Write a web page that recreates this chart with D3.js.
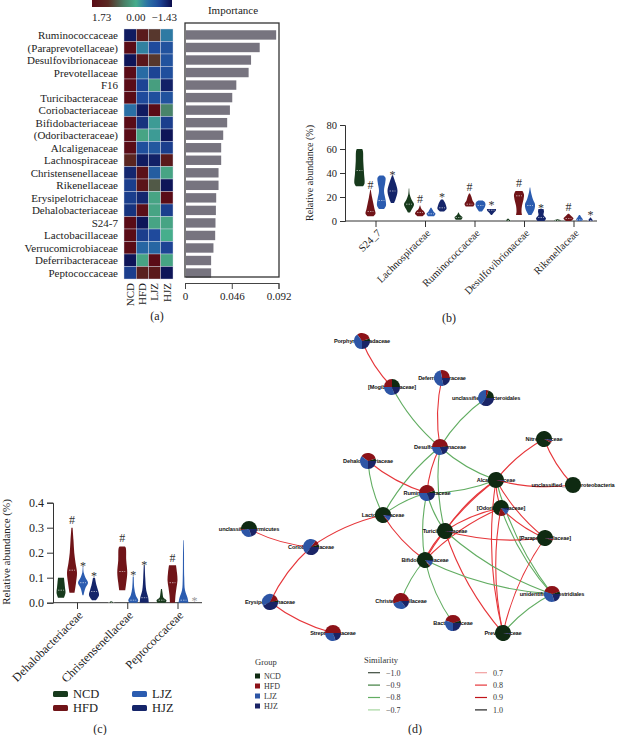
<!DOCTYPE html>
<html><head><meta charset="utf-8">
<script src="https://cdn.jsdelivr.net/npm/d3@7"></script>
<style>body{margin:0;background:#fff}svg{display:block}</style>
</head><body>
<svg id="c" width="620" height="735"></svg>
<script>
// ================= DATA =================
const groups = ["NCD","HFD","LJZ","HJZ"];
const heatRows = ["Ruminococcaceae","(Paraprevotellaceae)","Desulfovibrionaceae","Prevotellaceae","F16","Turicibacteraceae","Coriobacteriaceae","Bifidobacteriaceae","(Odoribacteraceae)","Alcaligenaceae","Lachnospiraceae","Christensenellaceae","Rikenellaceae","Erysipelotrichaceae","Dehalobacteriaceae","S24-7","Lactobacillaceae","Verrucomicrobiaceae","Deferribacteraceae","Peptococcaceae"];
const heatValues = [
 [-1.3, 1.4, 1.0,-0.4],
 [ 1.7,-0.35,-0.9,-0.8],
 [-1.35,1.5, 1.0,-0.8],
 [ 1.7,-0.55,-0.95,-0.85],
 [ 1.7,-0.95,0.15,-1.25],
 [ 1.7,-0.9,-0.85,-0.8],
 [-0.5,-1.3, 1.7, 0.4],
 [ 1.7,-1.1,-0.15,-1.0],
 [ 1.7, 0.1,-0.15,-1.35],
 [ 1.7,-0.85,-0.75,-1.0],
 [ 1.2,-1.3,-1.25, 1.45],
 [-1.2, 1.6,-0.7, 0.1],
 [-1.0, 1.55,0.75,-1.35],
 [-1.0,-1.2, 0.1, 1.7],
 [-1.1, 1.65,0.1,-1.0],
 [ 1.7,-1.35,0.1, 0.1],
 [ 1.7,-1.0,-0.9, 0.0],
 [ 1.7,-0.6,-0.6,-0.95],
 [-1.35,0.1, 1.7, 0.1],
 [-1.0, 1.3, 1.45,-1.35]
];
const importance = [0.0897,0.0735,0.065,0.0626,0.0505,0.0465,0.0442,0.0415,0.0376,0.0356,0.0356,0.033,0.033,0.0307,0.0304,0.030,0.0297,0.028,0.0257,0.0257];
const colorbarTicks = [1.73, 0.00, -1.43];
const importanceTicks = [0, 0.046, 0.092];

const bCategories = ["S24_7","Lachnospiraceae","Ruminococcaceae","Desulfovibrionaceae","Rikenellaceae"];
const bTicks = [0,20,40,60,80];
// [category, group, median, profile [value, relative width]]
const bViolins = [
 ["S24_7","NCD",42,[[29,0.7],[31,1],[40,0.9],[50,0.75],[58,0.7],[60,0.55]]],
 ["S24_7","HFD",8,[[4,0.6],[6,1],[10,0.8],[15,0.55],[20,0.3],[26,0.05]]],
 ["S24_7","LJZ",17,[[10,0.5],[13,0.9],[18,0.8],[25,0.5],[32,0.75],[36,0.8],[38,0.4]]],
 ["S24_7","HJZ",25,[[15,0.3],[18,0.6],[25,1],[32,0.6],[38,0.1]]],
 ["Lachnospiraceae","NCD",14,[[7,0.2],[10,0.6],[14,1],[18,0.5],[22,0.15],[27,0.05]]],
 ["Lachnospiraceae","HFD",7,[[4,0.5],[6,1],[8,0.8],[10,0.3],[13,0.05]]],
 ["Lachnospiraceae","LJZ",6,[[4,0.6],[6,0.9],[8,0.5],[11,0.1]]],
 ["Lachnospiraceae","HJZ",11,[[8,0.4],[10,0.9],[13,0.8],[16,0.5],[18,0.2]]],
 ["Ruminococcaceae","NCD",3,[[1,0.5],[3,0.8],[5,0.3],[7,0.05]]],
 ["Ruminococcaceae","HFD",14,[[12,0.7],[14,1],[17,0.6],[20,0.4],[23,0.1]]],
 ["Ruminococcaceae","LJZ",13,[[8,0.3],[11,0.8],[14,1],[16,0.8],[17,0.4]]],
 ["Ruminococcaceae","HJZ",9,[[5,0.1],[7,0.5],[9,0.9],[10,0.9]]],
 ["Desulfovibrionaceae","NCD",0.5,[[0,0.3],[0.5,0.6],[1,0.3],[2,0.05]]],
 ["Desulfovibrionaceae","HFD",21,[[5,0.6],[8,0.5],[13,0.6],[18,0.9],[22,1],[25,0.7]]],
 ["Desulfovibrionaceae","LJZ",13,[[5,0.3],[10,0.9],[14,1],[18,0.6],[24,0.2],[28,0.05]]],
 ["Desulfovibrionaceae","HJZ",3,[[0,0.7],[2,1],[5,0.5],[8,0.6],[10,0.5]]],
 ["Rikenellaceae","NCD",0.4,[[0,0.5],[0.5,0.7],[1.5,0.1]]],
 ["Rikenellaceae","HFD",2,[[0,0.5],[2,1],[4,0.6],[6,0.1]]],
 ["Rikenellaceae","LJZ",1,[[0,0.4],[1,0.7],[3,0.4],[5,0.1]]],
 ["Rikenellaceae","HJZ",0.5,[[0,0.5],[1,0.4],[3,0.05]]]
];
// [category, group, symbol, value]
const bMarks = [
 ["S24_7","HFD","#",30],["S24_7","HJZ","*",41],
 ["Lachnospiraceae","HFD","#",18.3],["Lachnospiraceae","HJZ","*",22.5],
 ["Ruminococcaceae","HFD","#",28.6],["Ruminococcaceae","HJZ","*",15.8],
 ["Desulfovibrionaceae","HFD","#",32],["Desulfovibrionaceae","HJZ","*",14],
 ["Rikenellaceae","HFD","#",12],["Rikenellaceae","HJZ","*",7.8]
];

const cCategories = ["Dehalobacteriaceae","Christensenellaceae","Peptococcaceae"];
const cTicks = [0,0.1,0.2,0.3,0.4];
const cViolins = [
 ["Dehalobacteriaceae","NCD",0.05,[[0.02,0.6],[0.04,0.9],[0.06,0.8],[0.08,0.7],[0.1,0.6]]],
 ["Dehalobacteriaceae","HFD",0.13,[[0.04,0.5],[0.08,0.8],[0.12,1],[0.16,0.7],[0.2,0.45],[0.25,0.3],[0.3,0.12]]],
 ["Dehalobacteriaceae","LJZ",0.08,[[0.03,0.1],[0.06,0.5],[0.08,1],[0.1,0.5],[0.12,0.15],[0.145,0.05]]],
 ["Dehalobacteriaceae","HJZ",0.045,[[0.01,0.4],[0.03,1],[0.05,0.8],[0.07,0.5],[0.1,0.2]]],
 ["Christensenellaceae","NCD",0.002,[[0,0.35],[0.003,0.3],[0.006,0.05]]],
 ["Christensenellaceae","HFD",0.125,[[0.05,0.6],[0.08,0.8],[0.12,1],[0.17,0.8],[0.22,0.7],[0.225,0.5]]],
 ["Christensenellaceae","LJZ",0.01,[[0,0.8],[0.01,1],[0.03,0.5],[0.06,0.2],[0.105,0.1]]],
 ["Christensenellaceae","HJZ",0.02,[[0,0.9],[0.02,0.8],[0.05,0.4],[0.1,0.2],[0.15,0.1]]],
 ["Peptococcaceae","NCD",0.01,[[0,0.8],[0.01,1],[0.02,0.4],[0.04,0.2],[0.055,0.1]]],
 ["Peptococcaceae","HFD",0.08,[[0,0.5],[0.03,0.6],[0.06,0.8],[0.09,1],[0.12,0.9],[0.15,0.7]]],
 ["Peptococcaceae","LJZ",0.01,[[0,1],[0.02,0.8],[0.05,0.3],[0.1,0.15],[0.2,0.1],[0.25,0.05]]]
];
const cMarks = [
 ["Dehalobacteriaceae","HFD","#",0.334],["Dehalobacteriaceae","LJZ","*",0.162],["Dehalobacteriaceae","HJZ","*",0.122],
 ["Christensenellaceae","HFD","#",0.262],["Christensenellaceae","LJZ","*",0.123],["Christensenellaceae","HJZ","*",0.166],
 ["Peptococcaceae","HFD","#",0.182],["Peptococcaceae","HJZ","*",0.019]
];

// network: name, layout x, layout y, group shares [NCD,HFD,LJZ,HJZ]
const netNodes = [
 ["Porphyromonadaceae",122,11,[0.05,0.3,0.4,0.25]],
 ["[Mogibacteriaceae]",152,57,[0.25,0.25,0.3,0.2]],
 ["Deferribacteraceae",202,48,[0,0.28,0.5,0.22]],
 ["unclassified_Bacteroidales",246,68,[0.2,0.05,0.4,0.35]],
 ["Desulfovibrionaceae",200,117,[0.02,0.48,0.3,0.2]],
 ["Nitrospiraceae",304,109,[0.92,0.04,0.02,0.02]],
 ["Dehalobacteriaceae",128,131,[0.05,0.35,0.35,0.25]],
 ["Alcaligenaceae",256,150,[0.96,0.02,0.01,0.01]],
 ["unclassified_Deltaproteobacteria",333,155,[1,0,0,0]],
 ["Ruminococcaceae",187,163,[0.05,0.45,0.3,0.2]],
 ["[Odoribacteraceae]",261,178,[0.7,0.15,0.1,0.05]],
 ["Lactobacillaceae",143,185,[0.85,0.02,0.1,0.03]],
 ["Turicibacteraceae",205,201,[0.97,0.01,0.01,0.01]],
 ["Coriobacteriaceae",71,217,[0.05,0.1,0.5,0.35]],
 ["[Paraprevotellaceae]",305,208,[0.95,0.03,0.01,0.01]],
 ["Bifidobacteriaceae",185,230,[0.85,0.02,0.1,0.03]],
 ["unidentified_Clostridiales",312,264,[0.05,0.4,0.35,0.2]],
 ["Christensenellaceae",161,271,[0,0.55,0.3,0.15]],
 ["Bacteroidaceae",213,293,[0.05,0.4,0.3,0.25]],
 ["Streptococcaceae",93,303,[0,0.5,0.3,0.2]],
 ["Prevotellaceae",263,303,[0.97,0.01,0.01,0.01]],
 ["unclassified_Firmicutes",9,199,[0.5,0.02,0.28,0.2]],
 ["Erysipelotrichaceae",30,272,[0.03,0.15,0.4,0.42]]
];
// source, target, similarity
const netEdges = [
 ["Porphyromonadaceae","[Mogibacteriaceae]",0.8],
 ["[Mogibacteriaceae]","Desulfovibrionaceae",-0.8],
 ["Deferribacteraceae","Desulfovibrionaceae",0.8],
 ["unclassified_Bacteroidales","Desulfovibrionaceae",-0.8],
 ["Desulfovibrionaceae","Ruminococcaceae",0.8],
 ["Desulfovibrionaceae","Alcaligenaceae",-0.8],
 ["Desulfovibrionaceae","Lactobacillaceae",-0.8],
 ["Desulfovibrionaceae","Turicibacteraceae",-0.8],
 ["Dehalobacteriaceae","Ruminococcaceae",0.8],
 ["Dehalobacteriaceae","Lactobacillaceae",-0.8],
 ["Ruminococcaceae","Alcaligenaceae",-0.8],
 ["Ruminococcaceae","Lactobacillaceae",-0.8],
 ["Ruminococcaceae","Turicibacteraceae",-0.8],
 ["Ruminococcaceae","Bifidobacteriaceae",-0.8],
 ["Nitrospiraceae","Alcaligenaceae",0.8],
 ["Nitrospiraceae","unclassified_Deltaproteobacteria",0.8],
 ["Alcaligenaceae","unclassified_Deltaproteobacteria",0.8],
 ["Alcaligenaceae","Turicibacteraceae",0.8],
 ["Alcaligenaceae","Bifidobacteriaceae",0.8],
 ["Alcaligenaceae","[Odoribacteraceae]",0.8],
 ["Alcaligenaceae","[Paraprevotellaceae]",0.8],
 ["Alcaligenaceae","Prevotellaceae",0.8],
 ["Alcaligenaceae","unidentified_Clostridiales",-0.8],
 ["[Odoribacteraceae]","Turicibacteraceae",0.8],
 ["[Odoribacteraceae]","Bifidobacteriaceae",0.8],
 ["[Odoribacteraceae]","[Paraprevotellaceae]",0.8],
 ["[Odoribacteraceae]","Prevotellaceae",0.8],
 ["[Odoribacteraceae]","unidentified_Clostridiales",-0.8],
 ["Turicibacteraceae","[Paraprevotellaceae]",0.8],
 ["Turicibacteraceae","Bifidobacteriaceae",0.8],
 ["Turicibacteraceae","Prevotellaceae",0.8],
 ["Turicibacteraceae","unidentified_Clostridiales",-0.8],
 ["[Paraprevotellaceae]","Prevotellaceae",0.8],
 ["Bifidobacteriaceae","unidentified_Clostridiales",-0.8],
 ["Bifidobacteriaceae","Christensenellaceae",-0.8],
 ["Bifidobacteriaceae","Bacteroidaceae",-0.8],
 ["Lactobacillaceae","Bifidobacteriaceae",0.8],
 ["Lactobacillaceae","Coriobacteriaceae",0.8],
 ["unclassified_Firmicutes","Coriobacteriaceae",0.8],
 ["Coriobacteriaceae","Erysipelotrichaceae",0.8],
 ["Erysipelotrichaceae","Streptococcaceae",0.8],
 ["unidentified_Clostridiales","Prevotellaceae",-0.8]
];
const simLevelsNeg = [-1.0,-0.9,-0.8,-0.7];
const simLevelsPos = [0.7,0.8,0.9,1.0];

// ================= DRAWING =================
const svg = d3.select("#c");
const serif = "'Liberation Serif','DejaVu Serif',serif";
const sans = "'Liberation Sans',Arial,sans-serif";
const fmtMinus = v => (v<0?"\u2212":"") + Math.abs(v).toFixed(2);

const heatColor = d3.scaleLinear()
  .domain([1.73,1.1,0.5,0,-0.45,-0.9,-1.43])
  .range(["#5a0b16","#5a2a22","#4a7a62","#46ae8c","#2b74a6","#1f4a9c","#0b0c4c"]);

// ---------- (a) colorbar ----------
const cbX = d3.scaleLinear().domain([1.73,-1.43]).range([92,172]);
const defs = svg.append("defs");
const grad = defs.append("linearGradient").attr("id","cbg");
d3.range(0,21).forEach(i=>{const t=i/20;
  grad.append("stop").attr("offset",t).attr("stop-color",heatColor(cbX.invert(92+80*t)));});
svg.append("rect").attr("x",cbX(1.73)).attr("y",-2).attr("width",cbX(-1.43)-cbX(1.73)).attr("height",9).attr("fill","url(#cbg)");
svg.selectAll(".cbt").data(colorbarTicks).join("text")
  .attr("x",(d,i)=>cbX(d)+(i===0?0:i===2?5:0)).attr("y",21)
  .attr("text-anchor",(d,i)=>i===0?"start":i===2?"end":"middle")
  .attr("font-family",serif).attr("font-size",11).attr("fill","#222").text(fmtMinus);

// ---------- (a) heatmap ----------
const xH = d3.scaleBand().domain(groups).range([124,173]);
const yH = d3.scaleBand().domain(heatRows).range([29,279]);
const gH = svg.append("g");
heatRows.forEach((r,i)=>groups.forEach((g,j)=>{
  gH.append("rect").attr("x",xH(g)).attr("y",yH(r)).attr("width",xH.bandwidth()).attr("height",yH.bandwidth())
    .attr("fill",heatColor(heatValues[i][j])).attr("stroke","#d8dde8").attr("stroke-width",0.4);
}));
svg.selectAll(".rl").data(heatRows).join("text")
  .attr("x",118).attr("y",d=>yH(d)+yH.bandwidth()/2).attr("dy","0.35em").attr("text-anchor","end")
  .attr("font-family",serif).attr("font-size",11).attr("fill","#222").text(d=>d);
svg.selectAll(".cl").data(groups).join("text")
  .attr("transform",d=>`translate(${xH(d)+xH.bandwidth()/2},283) rotate(-90)`)
  .attr("dy","0.35em").attr("text-anchor","end")
  .attr("font-family",serif).attr("font-size",11).attr("fill","#222").text(d=>d);

// ---------- (a) importance ----------
const xI = d3.scaleLinear().domain([0,0.092]).range([185,278.5]);
const yI = d3.scaleBand().domain(heatRows).range([29,279]).paddingInner(0.25).paddingOuter(0.1);
svg.selectAll(".ib").data(importance).join("rect")
  .attr("x",xI(0)+1).attr("y",(d,i)=>yI(heatRows[i])).attr("height",yI.bandwidth())
  .attr("width",d=>xI(d)-xI(0)-1).attr("fill","#77747f");
svg.append("rect").attr("x",185).attr("y",23).attr("width",94).attr("height",254)
  .attr("fill","none").attr("stroke","#333").attr("stroke-width",1.3);
svg.append("text").attr("x",233).attr("y",14).attr("text-anchor","middle")
  .attr("font-family",serif).attr("font-size",11).attr("fill","#222").text("Importance");
const axI = svg.append("g").attr("transform","translate(0,283)")
  .call(d3.axisBottom(xI).tickValues(importanceTicks).tickSize(6).tickFormat(d=>d===0?"0":d3.format(".3f")(d)));
axI.select(".domain").attr("stroke","#444");
axI.selectAll("line").attr("stroke","#444");
axI.selectAll("text").attr("font-family",serif).attr("font-size",11).attr("fill","#222");
svg.append("text").attr("x",157).attr("y",320).attr("text-anchor","middle")
  .attr("font-family",serif).attr("font-size",12).attr("fill","#222").text("(a)");

// ---------- violin helper ----------
const grpColor = {NCD:"#173a1c",HFD:"#701418",LJZ:"#2b5cb0",HJZ:"#15256a"};
function drawViolins(g, data, xs, off, ys, hw){
  data.forEach(([cat,grp,med,pts])=>{
    const cx = xs(cat)+off(grp);
    const area = d3.area().curve(d3.curveCatmullRom)
      .y(d=>ys(d[0])).x0(d=>cx-d[1]*hw).x1(d=>cx+d[1]*hw);
    g.append("path").attr("d",area(pts)).attr("fill",grpColor[grp]);
    const mw = Math.max(1.5, hw*0.6);
    g.append("line").attr("x1",cx-mw).attr("x2",cx+mw).attr("y1",ys(med)).attr("y2",ys(med))
      .attr("stroke","#fff").attr("stroke-width",0.7).attr("stroke-dasharray","1.5,1").attr("opacity",0.8);
  });
}
function drawMarks(g, data, xs, off, ys, fs){
  data.forEach(([cat,grp,sym,v],i)=>{
    g.append("text").attr("x",xs(cat)+off(grp)).attr("y",ys(v))
      .attr("dy",sym==="*"?"0.62em":"0.36em").attr("text-anchor","middle")
      .attr("font-family",serif).attr("font-size",fs)
      .attr("fill",(cat==="Peptococcaceae"&&grp==="HJZ")?"#999":"#333").text(sym);
  });
}

// ---------- (b) ----------
const yB = d3.scaleLinear().domain([0,80]).range([221,125]);
const xB = d3.scalePoint().domain(bCategories).range([376,574]);
const offB = d3.scalePoint().domain(groups).range([-16.5,16.5]);
const gB = svg.append("g");
const ayB = gB.append("g").attr("transform","translate(345,0)").call(d3.axisLeft(yB).tickValues(bTicks).tickSize(5));
ayB.selectAll("text").attr("font-family",serif).attr("font-size",10.5).attr("fill","#222");
ayB.selectAll("line,.domain").attr("stroke","#333");
gB.append("line").attr("x1",345).attr("x2",597).attr("y1",221).attr("y2",221).attr("stroke","#333");
bCategories.forEach(c=>{
  gB.append("line").attr("x1",xB(c)).attr("x2",xB(c)).attr("y1",221).attr("y2",227).attr("stroke","#333");
  gB.append("text").attr("transform",`translate(${xB(c)+3},${231}) rotate(-45)`)
    .attr("text-anchor","end").attr("dy","0.35em")
    .attr("font-family",serif).attr("font-size",10.5).attr("fill","#222").text(c);
});
gB.append("text").attr("transform","translate(313,173) rotate(-90)").attr("text-anchor","middle")
  .attr("font-family",serif).attr("font-size",10).attr("fill","#222").text("Relative abundance (%)");
drawViolins(gB,bViolins,xB,offB,yB,5);
drawMarks(gB,bMarks,xB,offB,yB,12);
svg.append("text").attr("x",449).attr("y",322).attr("text-anchor","middle")
  .attr("font-family",serif).attr("font-size",12).attr("fill","#222").text("(b)");

// ---------- (c) ----------
const yC = d3.scaleLinear().domain([0,0.4]).range([602.7,502.7]);
const xC = d3.scalePoint().domain(cCategories).range([77.5,178]);
const gC = svg.append("g");
const ayC = gC.append("g").attr("transform","translate(53,0)")
  .call(d3.axisLeft(yC).tickValues(cTicks).tickSize(6).tickFormat(d3.format(".1f")));
ayC.selectAll("text").attr("font-family",serif).attr("font-size",12).attr("fill","#222");
ayC.selectAll("line,.domain").attr("stroke","#333");
gC.append("line").attr("x1",53).attr("x2",202).attr("y1",602.7).attr("y2",602.7).attr("stroke","#333");
cCategories.forEach(c=>{
  gC.append("line").attr("x1",xC(c)).attr("x2",xC(c)).attr("y1",602.7).attr("y2",609).attr("stroke","#333");
  gC.append("text").attr("transform",`translate(${xC(c)+3},${613}) rotate(-45)`)
    .attr("text-anchor","end").attr("dy","0.35em")
    .attr("font-family",serif).attr("font-size",12).attr("fill","#222").text(c);
});
gC.append("text").attr("transform","translate(10,552) rotate(-90)").attr("text-anchor","middle")
  .attr("font-family",serif).attr("font-size",11).attr("fill","#222").text("Relative abundance (%)");
drawViolins(gC,cViolins,xC,offB,yC,5);
drawMarks(gC,cMarks,xC,offB,yC,12);
// legend (c)
const legC = svg.append("g");
groups.forEach((g,i)=>{
  const lx = i<2?53:132, ly = i%2===0?694:708;
  legC.append("rect").attr("x",lx).attr("y",ly-3).attr("width",15).attr("height",6).attr("rx",1.5).attr("fill",grpColor[g]);
  legC.append("text").attr("x",lx+20).attr("y",ly).attr("dy","0.35em")
    .attr("font-family",serif).attr("font-size",12.5).attr("fill","#222").text(g);
});
svg.append("text").attr("x",100).attr("y",733).attr("text-anchor","middle")
  .attr("font-family",serif).attr("font-size",12).attr("fill","#222").text("(c)");

// ---------- (d) network ----------
const nxS = d3.scaleLinear().domain([0,380]).range([240,620]);
const nyS = d3.scaleLinear().domain([0,380]).range([330,710]);
const nodeMap = new Map(netNodes.map(n=>[n[0],n]));
const simColor = d3.scaleOrdinal()
  .domain([-1.0,-0.9,-0.8,-0.7,0.7,0.8,0.9,1.0])
  .range(["#3d4a3d","#3f7f3f","#62ad62","#a6d6a0","#f2a0a0","#e6363a","#c0141a","#222222"]);
const gD = svg.append("g");
netEdges.forEach(([s,t,w])=>{
  const a=nodeMap.get(s), b=nodeMap.get(t);
  const x1=nxS(a[1]),y1=nyS(a[2]),x2=nxS(b[1]),y2=nyS(b[2]);
  const mx=(x1+x2)/2,my=(y1+y2)/2,dx=x2-x1,dy=y2-y1;
  const k=0.1;
  const p=d3.path(); p.moveTo(x1,y1); p.quadraticCurveTo(mx-dy*k,my+dx*k,x2,y2);
  gD.append("path").attr("d",p.toString()).attr("fill","none")
    .attr("stroke",simColor(w)).attr("stroke-width",1.1);
});
gD.selectAll(".nl").data(netNodes).join("text")
  .attr("x",d=>nxS(d[1])).attr("y",d=>nyS(d[2])).attr("dy","0.35em").attr("text-anchor","middle")
  .attr("font-family",sans).attr("font-weight","bold").attr("font-size",5.6).attr("letter-spacing",-0.15)
  .attr("fill","#111").text(d=>d[0]);
const pie = d3.pie().sort(null).startAngle(Math.PI/2).endAngle(Math.PI/2-2*Math.PI);
const arc = d3.arc().innerRadius(0).outerRadius(8);
const nodeColor = {NCD:"#0f2a12",HFD:"#8c1218",LJZ:"#2d55a5",HJZ:"#1a2466"};
netNodes.forEach(n=>{
  const g = gD.append("g").attr("transform",`translate(${nxS(n[1])},${nyS(n[2])})`);
  g.selectAll("path").data(pie(n[3])).join("path").attr("d",arc).attr("fill",(d,i)=>nodeColor[groups[i]]);
});
// legends (d)
const legG = svg.append("g");
legG.append("text").attr("x",255).attr("y",664.5).attr("font-family",serif).attr("font-size",8.5).attr("fill","#333").text("Group");
groups.forEach((g,i)=>{
  const ly = 676+i*10;
  legG.append("rect").attr("x",255).attr("y",ly-2.5).attr("width",5).attr("height",5).attr("fill",nodeColor[g]);
  legG.append("text").attr("x",264).attr("y",ly).attr("dy","0.35em").attr("font-family",serif).attr("font-size",8).attr("fill","#333").text(g);
});
legG.append("text").attr("x",364).attr("y",663).attr("font-family",serif).attr("font-size",8.5).attr("fill","#333").text("Similarity");
[[simLevelsNeg,368],[simLevelsPos,475]].forEach(([lv,lx])=>{
  lv.forEach((v,i)=>{
    const ly = 672.7+i*12.4;
    legG.append("line").attr("x1",lx).attr("x2",lx+12).attr("y1",ly).attr("y2",ly).attr("stroke",simColor(v)).attr("stroke-width",1.2);
    legG.append("text").attr("x",lx+18).attr("y",ly).attr("dy","0.35em").attr("font-family",serif).attr("font-size",8).attr("fill","#333")
      .text((v<0?"\u2212":"")+Math.abs(v).toFixed(1));
  });
});
svg.append("text").attr("x",415).attr("y",733).attr("text-anchor","middle")
  .attr("font-family",serif).attr("font-size",12).attr("fill","#222").text("(d)");
</script>
</body></html>
